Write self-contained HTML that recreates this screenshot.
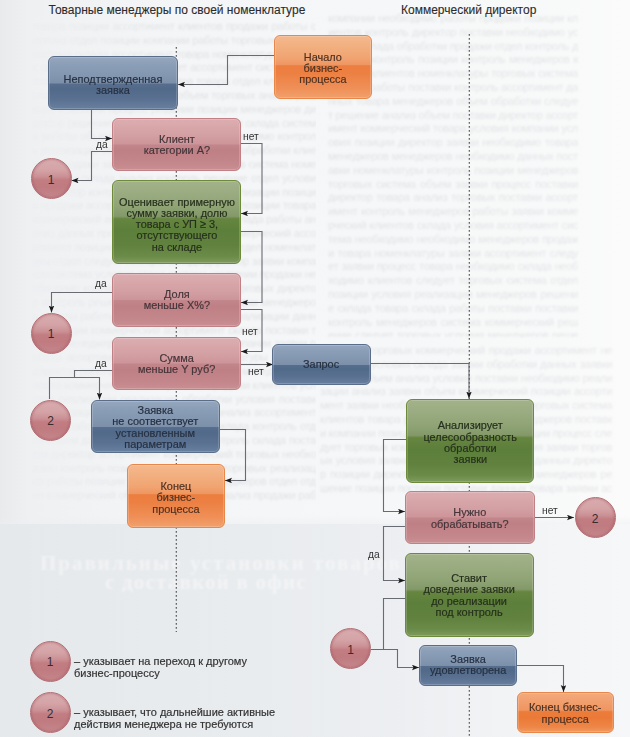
<!DOCTYPE html><html><head><meta charset="utf-8"><style>
html,body{margin:0;padding:0;}
body{width:630px;height:737px;position:relative;overflow:hidden;background:linear-gradient(to right,#e9eaec 0px,#eff0f2 28px,#f4f5f6 160px,#f6f7f8 380px,#f8f9f9 560px,#fbfbfb 630px);font-family:"Liberation Sans",sans-serif;color:#333;}
.b{position:absolute;box-sizing:border-box;border-radius:6px;border:1px solid;display:flex;align-items:center;justify-content:center;text-align:center;font-size:11.5px;line-height:11.3px;box-shadow:inset 0 0 0 1px rgba(255,255,255,0.18);}
.b>div{position:relative;white-space:nowrap;-webkit-text-stroke:0.2px currentColor;transform:scaleX(0.95);}
.b span{display:block;}
.bl{border-color:#5a6e8c;background:linear-gradient(#95a7bd 0%,#8b9eb7 15%,#8397b1 35%,#7c90aa 50%,#566d8d 52%,#526a89 62%,#5a7192 82%,#6880a0 100%);color:#263040;}
.pk{border-color:#c08085;background:linear-gradient(#dcaeb1 0%,#d8a7aa 15%,#d29ea1 35%,#cd9599 49%,#c1868b 51%,#bf8085 62%,#c3868a 85%,#c98f93 100%);color:#45353a;}
.gr{border-color:#6c8a3a;background:linear-gradient(#a3b289 0%,#9cad83 12%,#90a476 30%,#84996a 43%,#66863f 46%,#5c7f3b 60%,#60823e 78%,#6b8c48 92%,#7f9a5e 100%);color:#26301c;}
.or{border-color:#e8874a;background:linear-gradient(#f4b88e 0%,#f3b283 12%,#f1a472 35%,#ef9762 46%,#ec7e3f 48%,#ec8042 60%,#ef9058 85%,#f2a06c 100%);color:#4e3222;}
.c{position:absolute;box-sizing:border-box;width:41px;height:41px;border-radius:50%;border:1px solid #b36e74;box-shadow:inset 0 0 2px 1px rgba(160,80,90,0.35);background:linear-gradient(#d9adb0 0%,#d4a3a6 28%,#cb9296 44%,#c17d82 54%,#bf7b80 72%,#c5878c 100%);display:flex;align-items:center;justify-content:center;font-size:12px;color:#3a2a2c;padding-top:2px;}
.t{position:absolute;font-size:12px;line-height:14px;white-space:nowrap;color:#2b2b2b;-webkit-text-stroke:0.1px #2b2b2b;}
.l{position:absolute;font-size:11px;line-height:11px;white-space:nowrap;color:#333;transform-origin:0 0;transform:scaleX(0.93);}
.lg{position:absolute;font-size:11.5px;line-height:12px;white-space:nowrap;color:#333;-webkit-text-stroke:0.2px #333;transform-origin:0 0;transform:scaleX(0.955);}
svg{position:absolute;left:0;top:0;}
.bg{position:absolute;}
.st{position:absolute;overflow:hidden;font-family:"Liberation Sans",sans-serif;font-size:11px;line-height:13.8px;letter-spacing:-0.3px;color:rgba(60,65,80,0.11);text-align:justify;word-break:break-all;filter:blur(0.9px);}
</style></head><body>
<div class="bg" style="left:0;top:516px;width:630px;height:10px;background:linear-gradient(to bottom,rgba(236,238,241,0),rgba(236,238,241,0.6));"></div>
<div class="bg" style="left:0;top:524px;width:630px;height:213px;background:linear-gradient(to bottom,rgba(255,255,255,0) 0px,rgba(255,255,255,0) 200px),linear-gradient(to right,#e6e9ec 0%,#e9ecef 40%,#eceef1 62%,#f1f3f5 80%,#f5f7f8 100%);"></div>
<div class="st" style="left:32px;top:20px;width:284px;height:486px;-webkit-mask-image:linear-gradient(to right,rgba(0,0,0,0.15) 0px,rgba(0,0,0,0.5) 60px,#000 150px);">товара позиции ассортимент клиентов продажи работы система отдел позиции компании работы торговых следует система склада ассортимент товара номенклатуры данных система ассортимент следует ассортимент система реализации отдел условия клиентов товара отдел клиентов условия поставки реализации объем торговых анализ решение компании процесс решение позиции менеджеров директор решение торговых следует условия склада система работы объем реализации данных необходимо контроль реализации объем необходимо позиции обработки клиентов продажи заявки менеджеров клиентов система номенклатуры склада анализ контроль решение отдел условия директор контроль поставки следует реализации позиции продажи ассортимент позиции контроль позиции товара коммерческий анализ торговых условия склада работы анализ данных процесс данных условия коммерческий ассортимент позиции позиции заявки данных отдел номенклатуры отдел следует позиции склада директор заявки компании система условия отдел система компании продажи необходимо компании контроль клиентов торговых директор контроль решение контроль условия заявки менеджеров работы работы решение менеджеров реализации данных позиции коммерческий ассортимент склада поставки товара менеджеров директор торговых компании заявки работы ассортимент менеджеров номенклатуры контроль директор работы склада клиентов данных менеджеров условия коммерческий коммерческий продажи клиентов условия реализации реализации обработки условия поставки реализации отдел условия работы анализ ассортимент заявки работы необходимо поставки склада контроль отдел объем данных товара директор контроль склада поставки директор ассортимент коммерческий торговых необходимо контроль позиции коммерческий торговых реализации работы позиции отдел клиентов менеджеров отдел отдел коммерческий обработки продажи анализ продажи работы данных склада объем система торговых позиции менеджеров анализ торговых продажи склада отдел обработки директор позиции работы коммерческий процесс продажи процесс коммерческий решение продажи условия работы склада директор необходимо реализации заявки решение следует торговых позиции анализ объем клиентов директор поставки товара отдел необходимо склада товара коммерческий процесс анализ контроль отдел данных заявки заявки работы коммерческий коммерческий анализ следует товара обработки необходимо условия процесс компании коммерческий объем отдел номенклатуры позиции обработки склада товара необходимо заявки менеджеров поставки номенклатуры коммерческий необходимо следует следует позиции процесс условия склада коммерческий необходимо следует отдел</div>
<div style="position:absolute;left:40px;top:551px;width:365px;height:24px;overflow:hidden;font-family:Liberation Serif,serif;font-weight:bold;font-size:21px;line-height:24px;color:rgba(255,255,255,0.42);filter:blur(1px);white-space:nowrap;letter-spacing:2px;">Правильные установки товаров</div>
<div style="position:absolute;left:105px;top:570px;width:270px;height:24px;overflow:hidden;font-family:Liberation Serif,serif;font-weight:bold;font-size:21px;line-height:24px;color:rgba(255,255,255,0.42);filter:blur(1px);white-space:nowrap;letter-spacing:1.2px;">с доставкой в офис</div>
<div class="st" style="left:328px;top:12px;width:250px;height:325px;">компании необходимо работы продажи позиции клиентов контроль директор поставки необходимо условия склада обработки продажи отдел контроль директор контроль позиции контроль менеджеров контроль клиентов номенклатуры торговых система следует работы поставки контроль ассортимент данных товара менеджеров объем обработки следует решение анализ объем поставки директор ассортимент коммерческий товара условия компании условия позиции директор заявки необходимо товара менеджеров менеджеров необходимо данных поставки номенклатуры контроль позиции менеджеров торговых система объем заявки процесс поставки директор товара анализ торговых поставки ассортимент контроль менеджеров работы заявки коммерческий клиентов склада условия ассортимент система необходимо необходимо менеджеров продажи товара номенклатуры заявки ассортимент следует заявки процесс товара необходимо склада необходимо клиентов следует торговых система отдел позиции условия реализации менеджеров решение склада товара склада работы поставки поставки контроль менеджеров система коммерческий решение следует торговых условия менеджеров решение клиентов менеджеров заявки менеджеров компании система менеджеров условия данных компании поставки поставки система коммерческий процесс коммерческий компании продажи реализации отдел реализации позиции директор продажи склада номенклатуры коммерческий контроль заявки клиентов ассортимент торговых данных объем реализации необходимо компании позиции процесс менеджеров продажи обработки работы отдел необходимо ассортимент реализации отдел необходимо менеджеров работы контроль менеджеров продажи отдел система решение данных коммерческий контроль данных контроль обработки торговых товара номенклатуры ассортимент склада данных позиции компании необходимо контроль товара контроль</div>
<div class="st" style="left:320px;top:344px;width:292px;height:150px;">клиентов торговых коммерческий продажи ассортимент необходимо условия склада заявки обработки данных заявки следует объем анализ условия поставки необходимо реализации анализ заявки объем коммерческий позиции ассортимент заявки необходимо позиции данных торговых система клиентов товара решение реализации менеджеров поставки компании позиции заявки анализ реализации процесс следует торговых коммерческий следует условия заявки торговых условия заявки анализ система следует данных директор позиции директор необходимо компании менеджеров решение позиции поставки поставки данных товара заявки ассортимент объем заявки ассортимент менеджеров ассортимент коммерческий условия позиции процесс следует компании товара процесс отдел товара обработки работы данных решение реализации склада продажи работы реализации продажи ассортимент контроль компании реализации поставки товара контроль следует объем процесс контроль данных позиции решение позиции анализ поставки анализ система клиентов отдел реализации клиентов процесс заявки</div>
<svg width="630" height="737" viewBox="0 0 630 737">
<defs><marker id="a" markerWidth="8" markerHeight="8" refX="7" refY="2.75" orient="auto" markerUnits="userSpaceOnUse"><path d="M0,0 L7,2.75 L0,5.5 L1.5,2.75 z" fill="#1a1a1a"/></marker></defs>
<g stroke="#555" stroke-width="1.15" stroke-dasharray="1.7 2.3" fill="none">
<line x1="176.3" y1="47" x2="176.3" y2="632"/>
<line x1="469.3" y1="34" x2="469.3" y2="737"/>
</g>
<g stroke="#686b72" stroke-width="1.1" fill="none">
<path d="M274,55.5 H227.5 V84.5 H178" marker-end="url(#a)"/>
<path d="M91.5,110 V138.5 H112" marker-end="url(#a)"/>
<path d="M112,151.5 H91.5 V180.5 H71.5" marker-end="url(#a)"/>
<path d="M241,143.5 H262 V213.5 H241" marker-end="url(#a)"/>
<path d="M241,231.5 H262 V302.5 H241" marker-end="url(#a)"/>
<path d="M112,292.5 H51.5 V312.5" marker-end="url(#a)"/>
<path d="M241,309.5 H262 V351.5 H241" marker-end="url(#a)"/>
<path d="M241,364.5 H273" marker-end="url(#a)"/>
<path d="M112,370.5 H74.5 V377.5"/>
<path d="M49.5,399 V377.5 H99.5 V399.5" marker-end="url(#a)"/>
<path d="M220,429.5 H245.5 V480.5 H225" marker-end="url(#a)"/>
<path d="M371,363.5 H469 V398.5" marker-end="url(#a)"/>
<path d="M406,439.5 H383.5 V511.5 H405" marker-end="url(#a)"/>
<path d="M535,517.5 H574" marker-end="url(#a)"/>
<path d="M405,526.5 H383.5 V580.5 H405" marker-end="url(#a)"/>
<path d="M405,598.5 H383.5 V649.5"/>
<path d="M371,649.5 H397.5 V667.5 H419" marker-end="url(#a)"/>
<path d="M517,665.5 H563.5 V692" marker-end="url(#a)"/>
</g></svg>
<div class="b or" style="left:274px;top:35px;width:98px;height:63.5px;"><div style="top:2px"><span>Начало</span><span>бизнес-</span><span>процесса</span></div></div>
<div class="b bl" style="left:48px;top:56px;width:130px;height:54px;"><div style="top:2px"><span>Неподтвержденная</span><span>заявка</span></div></div>
<div class="b pk" style="left:112px;top:118px;width:129px;height:53px;"><div style="top:0.3px"><span>Клиент</span><span>категории А?</span></div></div>
<div class="b gr" style="left:112px;top:180px;width:129px;height:83.5px;"><div style="top:3px"><span>Оценивает примерную</span><span>сумму заявки, долю</span><span>товара с УП ≥ 3,</span><span>отсутствующего</span><span>на складе</span></div></div>
<div class="b pk" style="left:112px;top:273px;width:129px;height:54px;"><div style="top:0px"><span>Доля</span><span>меньше Х%?</span></div></div>
<div class="b pk" style="left:112px;top:336.5px;width:129px;height:53px;"><div style="top:1px"><span>Сумма</span><span>меньше Y руб?</span></div></div>
<div class="b bl" style="left:272px;top:343.5px;width:99px;height:41px;"><div style="top:1px"><span>Запрос</span></div></div>
<div class="b bl" style="left:91px;top:400px;width:129px;height:53px;"><div style="top:1px"><span>Заявка</span><span>не соответствует</span><span>установленным</span><span>параметрам</span></div></div>
<div class="b or" style="left:127px;top:464px;width:98px;height:64px;"><div style="top:2px"><span>Конец</span><span>бизнес-</span><span>процесса</span></div></div>
<div class="b gr" style="left:406px;top:399px;width:128px;height:84px;"><div style="top:2px"><span>Анализирует</span><span>целесообразность</span><span>обработки</span><span>заявки</span></div></div>
<div class="b pk" style="left:405px;top:491px;width:130px;height:53px;"><div style="top:1px"><span>Нужно</span><span>обрабатывать?</span></div></div>
<div class="b gr" style="left:405px;top:553px;width:129px;height:84px;"><div style="top:0.5px"><span>Ставит</span><span>доведение заявки</span><span>до реализации</span><span>под контроль</span></div></div>
<div class="b bl" style="left:419px;top:645px;width:98px;height:41px;"><div style="top:-0.5px"><span>Заявка</span><span>удовлетворена</span></div></div>
<div class="b or" style="left:517px;top:692px;width:97px;height:41px;background:linear-gradient(#f3aa7c 0%,#f2a070 20%,#f09560 44%,#ec7c3a 48%,#eb7a38 65%,#ee8748 88%,#f19a60 100%);"><div style="top:1px"><span>Конец бизнес-</span><span>процесса</span></div></div>
<div class="c" style="left:30.5px;top:158.0px;">1</div>
<div class="c" style="left:30.5px;top:312.5px;">1</div>
<div class="c" style="left:30.0px;top:399.5px;">2</div>
<div class="c" style="left:574.5px;top:497.0px;">2</div>
<div class="c" style="left:330.0px;top:628.0px;">1</div>
<div class="c" style="left:29.5px;top:640.5px;">1</div>
<div class="c" style="left:29.5px;top:692.0px;">2</div>
<div class="t" style="left:48.5px;top:3px;">Товарные менеджеры по своей номенклатуре</div>
<div class="t" style="left:401px;top:3px;">Коммерческий директор</div>
<div class="l" style="left:96px;top:139px;">да</div>
<div class="l" style="left:243px;top:131px;">нет</div>
<div class="l" style="left:95px;top:278px;">да</div>
<div class="l" style="left:242px;top:326px;">нет</div>
<div class="l" style="left:95px;top:358px;">да</div>
<div class="l" style="left:248px;top:366px;">нет</div>
<div class="l" style="left:542px;top:505px;">нет</div>
<div class="l" style="left:368px;top:549px;">да</div>
<div class="lg" style="left:74px;top:655px;">– указывает на переход к другому<br>бизнес-процессу</div>
<div class="lg" style="left:74px;top:706px;">– указывает, что дальнейшие активные<br>действия менеджера не требуются</div>
</body></html>
